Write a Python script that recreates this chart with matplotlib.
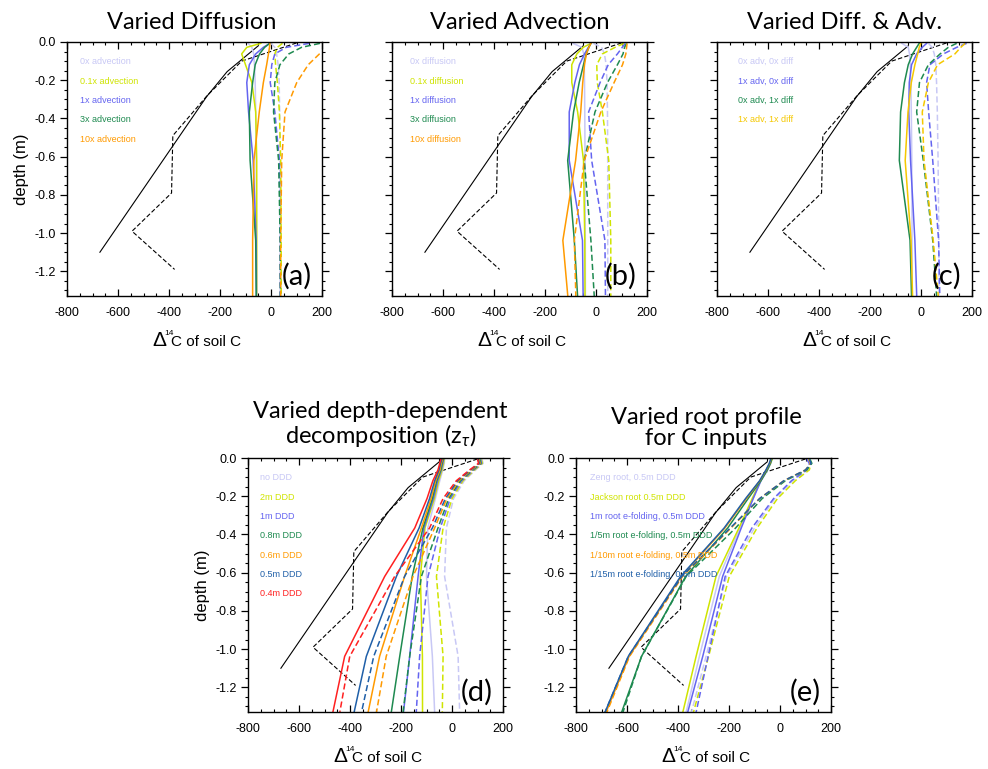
import matplotlib
matplotlib.use('Agg')
import matplotlib.pyplot as plt
from matplotlib.ticker import MultipleLocator, FormatStrFormatter

plt.rcParams['font.family'] = ['Liberation Sans', 'DejaVu Sans']
plt.rcParams['axes.unicode_minus'] = False
plt.rcParams['mathtext.fontset'] = 'custom'
plt.rcParams['mathtext.rm'] = 'Lato'
plt.rcParams['mathtext.it'] = 'Lato:italic'
plt.rcParams['mathtext.bf'] = 'Lato:bold'

# model soil node depths (m)
depth = [0.0071, 0.0279, 0.0623, 0.1189, 0.2122, 0.3661, 0.6198, 1.0380, 1.7276]

# observed profiles (black)
obs_solid_x = [-50, -172, -252, -671]
obs_solid_depth = [0.02, 0.155, 0.285, 1.10]
obs_dashed_x = [100, -115, -250, -385, -390, -545, -378]
obs_dashed_depth = [0.005, 0.10, 0.28, 0.49, 0.79, 0.99, 1.19]

lav = '#C8C8F5'
ygreen = '#CFE400'
blue = '#6464F0'
green = '#1E8A50'
orange = '#FF9A00'
gold = '#F5C800'
dkblue = '#1F5FA8'
red = '#FF2020'

# (a) varied diffusion, advection cases
a_labels = ['0x advection', '0.1x advection', '1x advection', '3x advection', '10x advection']
a_colors = [lav, ygreen, blue, green, orange]
a_solid = [
    [-90, -75, -68, -65, -62, -60, -58, -57, -57],
    [-40, -95, -115, -100, -75, -60, -56, -56, -56],
    [-4, -30, -60, -85, -95, -88, -70, -58, -55],
    [-5, -25, -45, -62, -72, -85, -82, -60, -55],
    [-4, -6, -10, -17, -30, -46, -67, -72, -72],
]
a_dashed = [
    [0, 15, 22, 28, 32, 34, 35, 36, 36],
    [45, 25, 15, 18, 25, 33, 38, 40, 40],
    [150, 60, 15, 3, -3, 15, 33, 36, 36],
    [192, 120, 70, 35, 15, 10, 30, 36, 38],
    [250, 230, 190, 146, 101, 55, 42, 38, 38],
]

# (b) varied advection, diffusion cases
b_labels = ['0x diffusion', '0.1x diffusion', '1x diffusion', '3x diffusion', '10x diffusion']
b_colors = [lav, ygreen, blue, green, orange]
b_solid = [
    [-90, -55, -48, -46, -45, -44, -43, -42, -41],
    [-20, -50, -75, -95, -95, -72, -49, -44, -42],
    [-20, -30, -45, -65, -83, -105, -105, -53, -47],
    [-20, -28, -38, -49, -66, -88, -111, -85, -55],
    [-20, -28, -38, -45, -52, -60, -80, -130, -84],
]
b_dashed = [
    [-10, 22, 33, 40, 43, 45, 46, 46, 46],
    [110, 75, 25, 3, 5, 25, 50, 58, 58],
    [115, 103, 84, 48, 16, -29, -17, 35, 40],
    [120, 112, 106, 84, 45, -4, -46, -20, 11],
    [122, 120, 117, 104, 71, 19, -46, -85, -71],
]

# (c) varied diffusion and advection
c_labels = ['0x adv, 0x diff', '1x adv, 0x diff', '0x adv, 1x diff', '1x adv, 1x diff']
c_colors = [lav, blue, green, gold]
c_solid = [
    [-75, -50, -45, -42, -40, -38, -36, -35, -34],
    [22, 5, -17, -37, -46, -48, -41, -24, -7],
    [-7, -17, -33, -50, -65, -80, -85, -43, -29],
    [-1, -7, -13, -24, -38, -51, -62, -39, -25],
]
c_dashed = [
    [29, 44, 52, 58, 61, 64, 67, 70, 72],
    [179, 140, 88, 35, 22, 30, 46, 69, 80],
    [140, 107, 75, 29, -6, -17, 9, 46, 82],
    [173, 156, 133, 65, 29, 5, 12, 48, 95],
]

# (d) varied depth-dependent decomposition
d_labels = ['no DDD', '2m DDD', '1m DDD', '0.8m DDD', '0.6m DDD', '0.5m DDD', '0.4m DDD']
d_colors = [lav, ygreen, blue, green, orange, dkblue, red]
d_solid = [
    [-29, -30, -36, -48, -65, -95, -100, -77, -56],
    [-31, -33, -39, -52, -69, -106, -124, -116, -115],
    [-33, -36, -42, -56, -73, -110, -133, -166, -223],
    [-35, -39, -44, -60, -77, -114, -156, -205, -283],
    [-37, -42, -47, -64, -82, -120, -186, -284, -390],
    [-40, -45, -51, -68, -88, -129, -218, -336, -449],
    [-44, -48, -55, -75, -98, -146, -264, -421, -530],
]
d_dashed = [
    [118, 122, 93, 48, 6, -22, -29, 24, 38],
    [115, 119, 89, 43, 0, -35, -61, -35, -42],
    [112, 116, 85, 38, -7, -46, -94, -127, -158],
    [109, 113, 81, 33, -13, -55, -120, -166, -227],
    [106, 110, 77, 27, -20, -68, -153, -258, -348],
    [103, 107, 73, 22, -26, -77, -186, -307, -420],
    [100, 104, 69, 17, -35, -88, -225, -401, -493],
]

# (e) varied root profile
e_labels = ['Zeng root, 0.5m DDD', 'Jackson root 0.5m DDD', '1m root e-folding, 0.5m DDD',
            '1/5m root e-folding, 0.5m DDD', '1/10m root e-folding, 0.5m DDD',
            '1/15m root e-folding, 0.5m DDD']
e_colors = [lav, ygreen, blue, green, orange, dkblue]
e_solid = [
    [-32, -36, -48, -74, -106, -157, -238, -316, -439],
    [-31, -37, -50, -76, -109, -161, -251, -329, -452],
    [-33, -38, -50, -75, -105, -152, -225, -303, -442],
    [-33, -38, -50, -75, -125, -205, -370, -543, -727],
    [-36, -41, -54, -79, -132, -216, -387, -592, -805],
    [-37, -42, -55, -80, -135, -219, -390, -595, -810],
]
e_dashed = [
    [108, 118, 110, 50, -20, -100, -210, -290, -425],
    [112, 122, 115, 60, -10, -90, -199, -280, -420],
    [105, 115, 105, 45, -25, -110, -215, -282, -393],
    [118, 125, 105, 21, -70, -174, -368, -543, -715],
    [113, 120, 100, 15, -80, -192, -382, -590, -800],
    [115, 122, 100, 15, -80, -195, -385, -595, -810],
]

titles = ['Varied Diffusion', 'Varied Advection', 'Varied Diff. & Adv.',
          'Varied depth-dependent\ndecomposition (z$_\\tau$)', 'Varied root profile\nfor C inputs']
title_x = [0.49, 0.5, 0.5, 0.52, 0.51]
panel_tags = ['(a)', '(b)', '(c)', '(d)', '(e)']

DASH = (0, (4, 2))


def draw_panel(ax, solid, dashed, labels, colors, legend_x):
    ax.plot(obs_solid_x, [-d for d in obs_solid_depth], color='black', lw=0.8)
    ax.plot(obs_dashed_x, [-d for d in obs_dashed_depth], color='black', lw=0.8, ls=DASH)
    y = [-d for d in depth]
    for vals, c in zip(solid, colors):
        ax.plot(vals, y, color=c, lw=1.1)
    for vals, c in zip(dashed, colors):
        ax.plot(vals, y, color=c, lw=1.1, ls=DASH)

    # text-only legend
    for i, (lab, c) in enumerate(zip(labels, colors)):
        ax.text(legend_x, 0.922 - i * 0.076, lab, color=c, fontsize=6.5,
                transform=ax.transAxes, ha='left', va='center')

    ax.set_xlim(-800, 200)
    ax.set_ylim(-1.329, 0)
    ax.xaxis.set_major_locator(MultipleLocator(200))
    ax.xaxis.set_minor_locator(MultipleLocator(50))
    ax.yaxis.set_major_locator(MultipleLocator(0.2))
    ax.yaxis.set_minor_locator(MultipleLocator(0.05))
    ax.yaxis.set_major_formatter(FormatStrFormatter('%.1f'))
    ax.tick_params(axis='x', which='both', direction='in', top=True, bottom=True,
                   labelsize=9, pad=8)
    ax.tick_params(axis='y', which='both', direction='out', left=True, right=True,
                   labelsize=9, pad=3)
    ax.tick_params(which='major', length=5, width=0.9)
    ax.tick_params(which='minor', length=2.5, width=0.8)
    for sp in ax.spines.values():
        sp.set_linewidth(1.0)

    # x label: big Delta, superscript 14, rest
    ax.text(0.333, -0.197, '\u0394', fontsize=15, transform=ax.transAxes,
            ha='left', va='baseline')
    ax.text(0.381, -0.152, '14', fontsize=6, transform=ax.transAxes,
            ha='left', va='baseline')
    ax.text(0.408, -0.197, 'C of soil C', fontsize=11, transform=ax.transAxes,
            ha='left', va='baseline')


def main():
    fig = plt.figure(figsize=(9.88, 7.69), dpi=100)
    W, H = 988.0, 769.0
    boxes = [(67, 42), (392, 42), (717, 42), (248, 458), (576, 458)]
    aw, ah = 255, 254
    panels = [
        (a_solid, a_dashed, a_labels, a_colors, 0.051),
        (b_solid, b_dashed, b_labels, b_colors, 0.07),
        (c_solid, c_dashed, c_labels, c_colors, 0.082),
        (d_solid, d_dashed, d_labels, d_colors, 0.047),
        (e_solid, e_dashed, e_labels, e_colors, 0.054),
    ]
    for k, ((x0, y0), (s, dsh, labs, cols, lx)) in enumerate(zip(boxes, panels)):
        ax = fig.add_axes([x0 / W, 1 - (y0 + ah) / H, aw / W, ah / H])
        draw_panel(ax, s, dsh, labs, cols, lx)
        if k in (1, 2):
            ax.tick_params(axis='y', labelleft=False)
        if k in (0, 3):
            ax.set_ylabel('depth (m)', fontsize=12, labelpad=4)
        ax.text(title_x[k], 1.035, titles[k], transform=ax.transAxes, ha='center',
                va='bottom', fontsize=17, family='Lato', linespacing=1.0)
        ax.text(0.96, 0.025, panel_tags[k], transform=ax.transAxes, ha='right',
                va='bottom', fontsize=21, family='Lato')

    fig.savefig('out.png', dpi=100)


if __name__ == '__main__':
    main()
